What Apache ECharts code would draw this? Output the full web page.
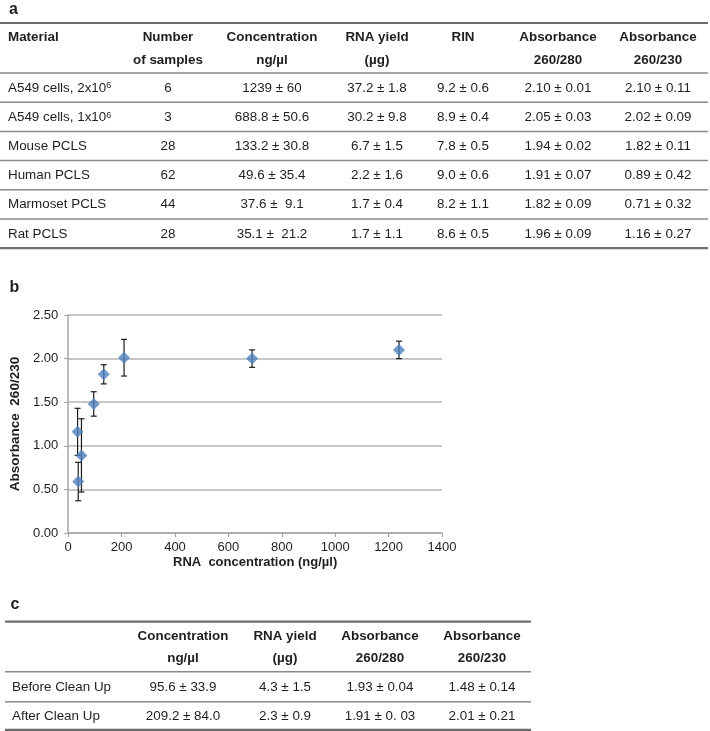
<!DOCTYPE html>
<html><head><meta charset="utf-8">
<script src="https://cdn.jsdelivr.net/npm/echarts@6/dist/echarts.min.js"></script>
<style>html,body{margin:0;padding:0;background:#fff}#c{width:710px;height:731px}</style>
</head><body><div id="c"></div>
<script>
// ---------- Table a data ----------
const tableAHeaders = ['Material', 'Number\nof samples', 'Concentration\nng/µl', 'RNA yield\n(µg)', 'RIN', 'Absorbance\n260/280', 'Absorbance\n260/230'];
const materials = ['A549 cells, 2x10|6', 'A549 cells, 1x10|6', 'Mouse PCLS', 'Human PCLS', 'Marmoset PCLS', 'Rat PCLS'];
const sampleCounts = ['6', '3', '28', '62', '44', '28'];
const concentrationA = ['1239 ± 60', '688.8 ± 50.6', '133.2 ± 30.8', '49.6 ± 35.4', '37.6 ±  9.1', '35.1 ±  21.2'];
const yieldA = ['37.2 ± 1.8', '30.2 ± 9.8', '6.7 ± 1.5', '2.2 ± 1.6', '1.7 ± 0.4', '1.7 ± 1.1'];
const rinA = ['9.2 ± 0.6', '8.9 ± 0.4', '7.8 ± 0.5', '9.0 ± 0.6', '8.2 ± 1.1', '8.6 ± 0.5'];
const abs280A = ['2.10 ± 0.01', '2.05 ± 0.03', '1.94 ± 0.02', '1.91 ± 0.07', '1.82 ± 0.09', '1.96 ± 0.09'];
const abs230A = ['2.10 ± 0.11', '2.02 ± 0.09', '1.82 ± 0.11', '0.89 ± 0.42', '0.71 ± 0.32', '1.16 ± 0.27'];

// ---------- Chart b data ----------
const pointConc = [1239, 688.8, 133.2, 49.6, 37.6, 35.1, 95.6, 209.2];
const pointAbs = [2.10, 2.00, 1.82, 0.89, 0.59, 1.16, 1.48, 2.01];
const pointSD = [0.10, 0.10, 0.11, 0.42, 0.22, 0.27, 0.14, 0.21];
const xTicks = ['0', '200', '400', '600', '800', '1000', '1200', '1400'];
const yTicks = ['0.00', '0.50', '1.00', '1.50', '2.00', '2.50'];

// ---------- Table c data ----------
const tableCHeaders = ['', 'Concentration\nng/µl', 'RNA yield\n(µg)', 'Absorbance\n260/280', 'Absorbance\n260/230'];
const cleanupRows = ['Before Clean Up', 'After Clean Up'];
const concentrationC = ['95.6 ± 33.9', '209.2 ± 84.0'];
const yieldC = ['4.3 ± 1.5', '2.3 ± 0.9'];
const abs280C = ['1.93 ± 0.04', '1.91 ± 0. 03'];
const abs230C = ['1.48 ± 0.14', '2.01 ± 0.21'];

// ---------- drawing ----------
const FF = '"Liberation Sans", Arial, Helvetica, sans-serif';
const TXT = '#1e1e1e';
const FS = 13.4;
const g = [];
function text(x, y, s, o) {
  o = o || {};
  g.push({type: 'text', x: x, y: y, z: 10, silent: true, style: Object.assign({
    text: s, fontFamily: FF, fontSize: FS, fill: TXT, align: o.align || 'center', verticalAlign: 'middle'
  }, o.style || {})});
}
function hline(x1, x2, y, w, c) {
  g.push({type: 'line', z: 5, silent: true, shape: {x1: x1, y1: y, x2: x2, y2: y}, style: {stroke: c || '#8a8a8a', lineWidth: w}});
}

// panel labels
text(13.5, 10, 'a', {style: {fontWeight: 'bold', fontSize: 16}});
text(14.5, 288, 'b', {style: {fontWeight: 'bold', fontSize: 16}});
text(15, 605, 'c', {style: {fontWeight: 'bold', fontSize: 16}});

// Table a
const colAX = [8, 168, 272, 377, 463, 558, 658];
const hdrA1 = 37, hdrA2 = 60;
tableAHeaders.forEach((h, i) => {
  const parts = h.split('\n');
  const al = i === 0 ? 'left' : 'center';
  text(colAX[i], hdrA1, parts[0], {align: al, style: {fontWeight: 'bold'}});
  if (parts[1]) text(colAX[i], hdrA2, parts[1], {align: al, style: {fontWeight: 'bold'}});
});
hline(0, 708, 23, 2.2, '#6e6e6e');
const lineA0 = 73, rowHA = 29.2;
hline(0, 708, lineA0, 1.5);
const colsA = [sampleCounts, concentrationA, yieldA, rinA, abs280A, abs230A];
materials.forEach((m, r) => {
  const cy = lineA0 + rowHA * r + 15;
  if (m.indexOf('|') >= 0) {
    const p = m.split('|');
    g.push({type: 'text', x: colAX[0], y: cy, z: 10, silent: true, style: {
      text: '{n|' + p[0] + '}{s|' + p[1] + '}', fontFamily: FF, fontSize: FS, fill: TXT, align: 'left', verticalAlign: 'middle',
      rich: {n: {fontFamily: FF, fontSize: FS, fill: TXT, verticalAlign: 'bottom'}, s: {fontFamily: FF, fontSize: 9, fill: TXT, verticalAlign: 'top'}}
    }});
  } else {
    text(colAX[0], cy, m, {align: 'left'});
  }
  colsA.forEach((col, c) => text(colAX[c + 1], cy, col[r]));
  const ly = lineA0 + rowHA * (r + 1);
  if (r < materials.length - 1) hline(0, 708, ly, 1.5); else hline(0, 708, ly, 2.2, '#6e6e6e');
});

// Table c
const colCX = [12, 183, 285, 380, 482];
const hdrC1 = 636, hdrC2 = 658.3;
tableCHeaders.forEach((h, i) => {
  if (!h) return;
  const parts = h.split('\n');
  text(colCX[i], hdrC1, parts[0], {style: {fontWeight: 'bold'}});
  if (parts[1]) text(colCX[i], hdrC2, parts[1], {style: {fontWeight: 'bold'}});
});
hline(5, 531, 621.7, 2.2, '#6e6e6e');
hline(5, 531, 671.7, 1.5);
const colsC = [concentrationC, yieldC, abs280C, abs230C];
cleanupRows.forEach((rname, r) => {
  const cy = 687.3 + r * 29.4;
  text(colCX[0], cy, rname, {align: 'left'});
  colsC.forEach((col, c) => text(colCX[c + 1], cy, col[r]));
});
hline(5, 531, 701.7, 1.5);
hline(5, 531, 729.8, 2.2, '#6e6e6e');

// Chart
const chart = echarts.init(document.getElementById('c'), null, {renderer: 'canvas', width: 710, height: 731});
const errData = pointConc.map((x, i) => [x, pointAbs[i], pointSD[i]]);
const ptData = pointConc.map((x, i) => [x, pointAbs[i]]);
const axisGray = '#a6a6a6';
const xMin = Number(xTicks[0]), xMax = Number(xTicks[xTicks.length - 1]), xStep = Number(xTicks[1]) - Number(xTicks[0]);
chart.setOption({
  animation: false,
  backgroundColor: '#fff',
  textStyle: {fontFamily: FF},
  grid: {left: 60, top: 315, width: 382, height: 218, containLabel: false},
  xAxis: {
    type: 'value', min: xMin, max: xMax, interval: xStep,
    axisLine: {show: true, lineStyle: {color: axisGray, width: 1.5}},
    axisTick: {show: true, length: 4, lineStyle: {color: axisGray, width: 1.2}},
    splitLine: {show: false},
    axisLabel: {color: TXT, fontSize: 13, fontFamily: FF, margin: 8, formatter: v => xTicks[Math.round((v - xMin) / xStep)]},
    name: 'RNA  concentration (ng/µl)', nameLocation: 'middle', nameGap: 23,
    nameTextStyle: {color: TXT, fontSize: 13, fontWeight: 'bold', fontFamily: FF}
  },
  yAxis: {
    type: 'value', min: 0, max: 2.5, interval: 0.5,
    axisLine: {show: true, lineStyle: {color: axisGray, width: 1.5}},
    axisTick: {show: true, length: 4, lineStyle: {color: axisGray, width: 1.2}},
    splitLine: {show: true, lineStyle: {color: '#b4b4b4', width: 1.5}},
    axisLabel: {color: TXT, fontSize: 13, fontFamily: FF, margin: 10, formatter: v => yTicks[Math.round(v / 0.5)]},
    name: 'Absorbance  260/230', nameLocation: 'middle', nameGap: 44,
    nameTextStyle: {color: TXT, fontSize: 13.5, fontWeight: 'bold', fontFamily: FF}
  },
  series: [
    {
      type: 'custom', z: 3, silent: true,
      data: errData,
      encode: {x: 0, y: 1},
      renderItem: function (params, api) {
        const x = api.value(0), y = api.value(1), sd = api.value(2);
        const top = api.coord([x, y + sd]);
        const bot = api.coord([x, y - sd]);
        const st = {stroke: '#1a1a1a', lineWidth: 1.2};
        const hw = 3;
        return {type: 'group', children: [
          {type: 'line', shape: {x1: top[0], y1: top[1], x2: bot[0], y2: bot[1]}, style: st},
          {type: 'line', shape: {x1: top[0] - hw, y1: top[1], x2: top[0] + hw, y2: top[1]}, style: st},
          {type: 'line', shape: {x1: bot[0] - hw, y1: bot[1], x2: bot[0] + hw, y2: bot[1]}, style: st}
        ]};
      }
    },
    {
      type: 'scatter', z: 4, symbol: 'diamond', symbolSize: 12,
      itemStyle: {color: '#4f81bd'},
      data: ptData
    }
  ],
  graphic: g
});
</script></body></html>
